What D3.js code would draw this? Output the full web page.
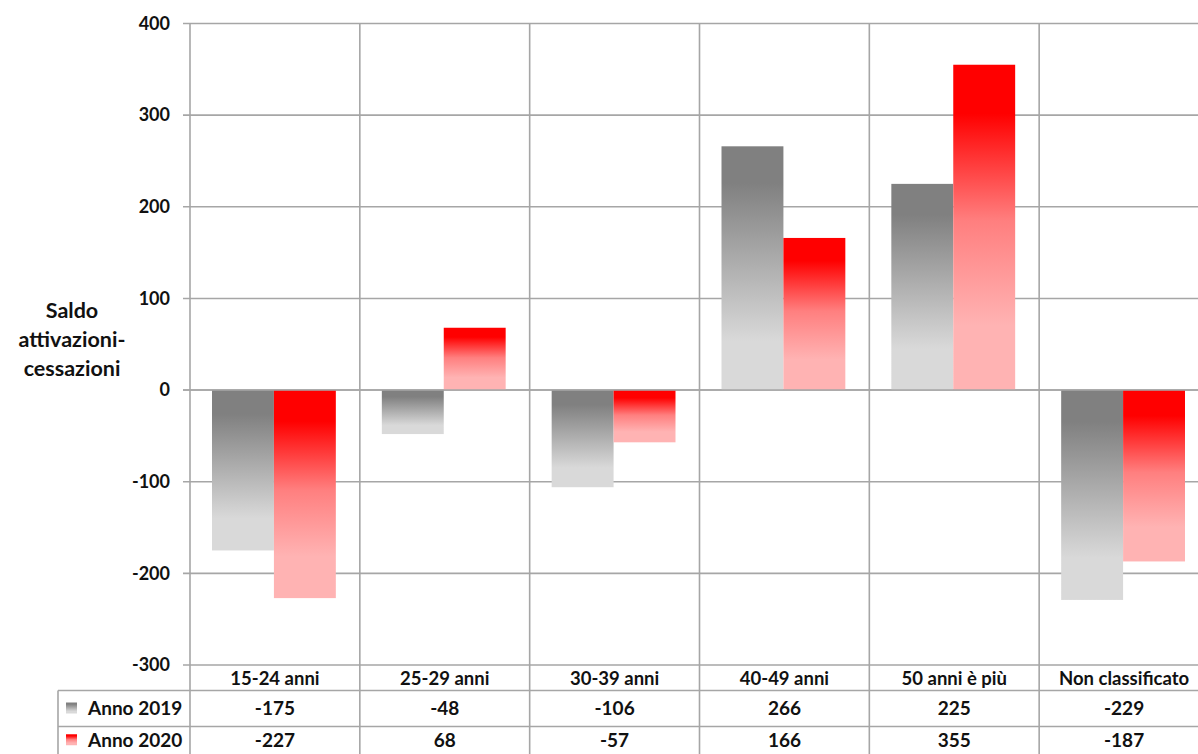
<!DOCTYPE html>
<html>
<head>
<meta charset="utf-8">
<script src="https://cdn.jsdelivr.net/npm/d3@7"></script>
<style>
  html, body { margin: 0; padding: 0; background: #fff; }
  svg { display: block; font-family: Lato, "Open Sans", sans-serif; font-weight: bold; }
</style>
</head>
<body>
<svg id="chart" width="1198" height="754"></svg>
<script>
// Net balance (activations minus terminations) by age group
const categories = ["15-24 anni", "25-29 anni", "30-39 anni", "40-49 anni", "50 anni è più", "Non classificato"];
const seriesNames = ["Anno 2019", "Anno 2020"];
const values2019 = [-175, -48, -106, 266, 225, -229];
const values2020 = [-227, 68, -57, 166, 355, -187];
const yTicks = [400, 300, 200, 100, 0, -100, -200, -300];
const axisTitle = ["Saldo", "attivazioni-", "cessazioni"];

const series = [
  { name: seriesNames[0], values: values2019, grad: "g2019" },
  { name: seriesNames[1], values: values2020, grad: "g2020" }
];

const svg = d3.select("#chart");
const plot = { left: 190, right: 1209, top: 23.5, bottom: 665 };

const x = d3.scaleBand().domain(categories).range([plot.left, plot.right]);
const inner = d3.scaleBand().domain(seriesNames)
  .range([22, x.bandwidth() - 24]).padding(0);
const y = d3.scaleLinear().domain([-300, 400]).range([plot.bottom, plot.top]);

// Vertical gradients: dark at the top of each bar, fading to light at the bottom
const defs = svg.append("defs");
function gradient(id, stops) {
  const g = defs.append("linearGradient").attr("id", id)
    .attr("x1", 0).attr("y1", 0).attr("x2", 0).attr("y2", 1);
  stops.forEach(s => g.append("stop").attr("offset", s[0]).attr("stop-color", s[1]));
}
gradient("g2019", [[0, "#808080"], [0.15, "#808080"], [0.8, "#d9d9d9"], [1, "#d9d9d9"]]);
gradient("g2020", [[0, "#ff0000"], [0.15, "#ff0000"], [0.48, "#ff7f7f"], [0.8, "#ffb3b3"], [1, "#ffb3b3"]]);

const gridColor = "#a6a6a6";
const textColor = "#111";

// Horizontal gridlines with small outer ticks
svg.append("g").selectAll("line").data(yTicks).join("line")
  .attr("x1", plot.left - 7).attr("x2", 1198)
  .attr("y1", d => y(d)).attr("y2", d => y(d))
  .attr("stroke", gridColor).attr("stroke-width", 1.6);

// Y tick labels
svg.append("g").selectAll("text").data(yTicks).join("text")
  .attr("x", 170).attr("y", d => y(d)).attr("dy", "0.35em")
  .attr("text-anchor", "end").attr("font-size", 18).attr("fill", textColor)
  .text(d => d);

// Category bars
const groups = svg.append("g").selectAll("g").data(categories).join("g")
  .attr("transform", d => `translate(${x(d)},0)`);
series.forEach(s => {
  groups.append("rect")
    .attr("x", inner(s.name))
    .attr("width", inner.bandwidth())
    .attr("y", (d, i) => y(Math.max(0, s.values[i])))
    .attr("height", (d, i) => Math.abs(y(s.values[i]) - y(0)))
    .attr("fill", `url(#${s.grad})`);
});

// Redraw zero line above the bars
svg.append("line")
  .attr("x1", plot.left - 7).attr("x2", 1198)
  .attr("y1", y(0)).attr("y2", y(0))
  .attr("stroke", gridColor).attr("stroke-width", 1.6);

// Vertical category separators extending through the data table
const bounds = categories.map(c => x(c)).concat([x(categories[categories.length - 1]) + x.bandwidth()]);
svg.append("g").selectAll("line").data(bounds).join("line")
  .attr("x1", d => d).attr("x2", d => d)
  .attr("y1", plot.top).attr("y2", 754)
  .attr("stroke", gridColor).attr("stroke-width", 1.6);

// Data table below the plot
const rowTop = [plot.bottom, 690.5, 726.5, 762];
const tableLeft = 58;
[rowTop[1], rowTop[2]].forEach(yy => {
  svg.append("line").attr("x1", tableLeft).attr("x2", 1198)
    .attr("y1", yy).attr("y2", yy)
    .attr("stroke", gridColor).attr("stroke-width", 1.6);
});
svg.append("line").attr("x1", tableLeft).attr("x2", tableLeft)
  .attr("y1", rowTop[1]).attr("y2", 754)
  .attr("stroke", gridColor).attr("stroke-width", 1.6);

// Header row: category labels
svg.append("g").selectAll("text").data(categories).join("text")
  .attr("x", d => x(d) + x.bandwidth() / 2)
  .attr("y", (rowTop[0] + rowTop[1]) / 2 + 1).attr("dy", "0.35em")
  .attr("text-anchor", "middle").attr("font-size", 18.5).attr("fill", textColor)
  .text(d => d);

// One table row per series: legend key, name, values
series.forEach((s, si) => {
  const cy = (rowTop[si + 1] + rowTop[si + 2]) / 2 - (si === 1 ? 4 : 0);
  svg.append("rect").attr("x", 66).attr("y", cy - 6).attr("width", 11).attr("height", 11)
    .attr("fill", `url(#${s.grad})`);
  svg.append("text").attr("x", 88).attr("y", cy).attr("dy", "0.35em")
    .attr("font-size", 19).attr("fill", textColor).text(s.name);
  svg.append("g").selectAll("text").data(categories).join("text")
    .attr("x", d => x(d) + x.bandwidth() / 2)
    .attr("y", cy).attr("dy", "0.35em")
    .attr("text-anchor", "middle").attr("font-size", 19).attr("fill", textColor)
    .text((d, i) => s.values[i]);
});

// Axis title
svg.append("text").attr("text-anchor", "middle").attr("font-size", 21.5).attr("fill", textColor)
  .selectAll("tspan").data(axisTitle).join("tspan")
  .attr("x", 72).attr("y", (d, i) => 310 + i * 29).attr("dy", "0.35em")
  .text(d => d);
</script>
</body>
</html>
